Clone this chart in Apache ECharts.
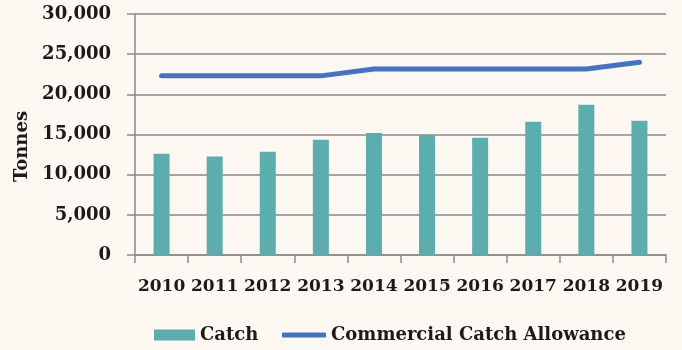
<!DOCTYPE html>
<html>
<head>
<meta charset="utf-8">
<script src="https://cdn.jsdelivr.net/npm/echarts@6/dist/echarts.min.js"></script>
<style>
  html, body { margin: 0; padding: 0; background: #FDF8F1; }
  #chart { width: 682px; height: 350px; }
</style>
</head>
<body>
<div id="chart"></div>
<script>
const years = ['2010','2011','2012','2013','2014','2015','2016','2017','2018','2019'];
const catchValues = [12600, 12250, 12850, 14350, 15200, 14950, 14600, 16600, 18700, 16700];
const allowanceValues = [22300, 22300, 22300, 22300, 23150, 23150, 23150, 23150, 23150, 24000];

const FONT = 'DejaVu Serif';
const TEXT = '#1a1a1a';
const AXIS = '#8a8a8a';

const chart = echarts.init(document.getElementById('chart'), null, { renderer: 'canvas' });
chart.setOption({
  backgroundColor: '#FDF8F1',
  animation: false,
  textStyle: { fontFamily: FONT, fontWeight: 'bold', color: TEXT },
  grid: { left: 135, right: 16, top: 14, bottom: 95, containLabel: false },
  legend: [
    {
      left: 154,
      top: 326,
      padding: 0,
      itemWidth: 41,
      itemHeight: 11,
      selectedMode: false,
      textStyle: { fontFamily: FONT, fontWeight: 'bold', fontSize: 18, color: TEXT },
      data: [{ name: 'Catch', icon: 'rect' }]
    },
    {
      left: 282,
      top: 326,
      padding: 0,
      itemWidth: 44,
      itemHeight: 5,
      selectedMode: false,
      textStyle: { fontFamily: FONT, fontWeight: 'bold', fontSize: 18, color: TEXT },
      data: [{ name: 'Commercial Catch Allowance', icon: 'roundRect' }]
    }
  ],
  xAxis: {
    type: 'category',
    data: years,
    axisLine: { lineStyle: { color: AXIS, width: 1.5 } },
    axisTick: { show: true, length: 8, lineStyle: { color: AXIS, width: 1.5 } },
    axisLabel: { margin: 23, fontFamily: FONT, fontWeight: 'bold', fontSize: 17, color: TEXT, interval: 0 }
  },
  yAxis: {
    type: 'value',
    min: 0,
    max: 30000,
    interval: 5000,
    name: 'Tonnes',
    nameLocation: 'middle',
    nameGap: 98,
    nameRotate: 90,
    nameTextStyle: { fontFamily: FONT, fontWeight: 'bold', fontSize: 18, color: TEXT, padding: [0, 24, 0, 0] },
    axisLine: { show: true, lineStyle: { color: AXIS, width: 1.5 } },
    axisTick: { show: true, length: 8, lineStyle: { color: AXIS, width: 1.5 } },
    splitLine: { show: true, lineStyle: { color: AXIS, width: 1.5 } },
    axisLabel: {
      margin: 24,
      fontFamily: FONT, fontWeight: 'bold', fontSize: 18, color: TEXT,
      formatter: v => v.toLocaleString('en-US')
    }
  },
  series: [
    {
      name: 'Catch',
      type: 'bar',
      data: catchValues,
      barWidth: 16,
      itemStyle: { color: '#5BAEAD' }
    },
    {
      name: 'Commercial Catch Allowance',
      type: 'line',
      data: allowanceValues,
      symbol: 'none',
      lineStyle: { color: '#4472C4', width: 5, cap: 'round', join: 'round' },
      itemStyle: { color: '#4472C4' }
    }
  ]
});
</script>
</body>
</html>
